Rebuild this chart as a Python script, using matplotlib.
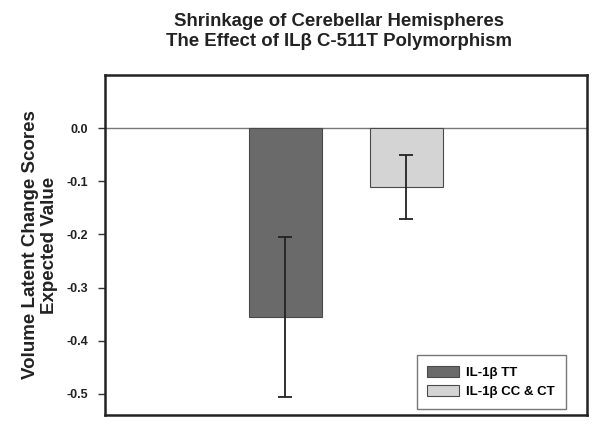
import matplotlib
matplotlib.use('Agg')
import matplotlib.pyplot as plt

plt.rcParams['font.family'] = ['Liberation Sans', 'DejaVu Sans']

# data
groups = ['IL-1\u03b2 TT', 'IL-1\u03b2 CC & CT']
means = [-0.355, -0.111]
errors = [0.150, 0.060]
colors = ['#6a6a6a', '#d4d4d4']
yticks = [0.0, -0.1, -0.2, -0.3, -0.4, -0.5]

fig = plt.figure(figsize=(6, 4.28), dpi=100)
ax = fig.add_axes([0.175, 0.03, 0.803, 0.795])

x = [0, 1]
for xi, m, e, c, g in zip(x, means, errors, colors, groups):
    ax.bar(xi, m, width=0.6, color=c, edgecolor='#4a4a4a', linewidth=0.8, label=g, zorder=2)
    ax.errorbar(xi, m, yerr=e, fmt='none', ecolor='#222222', elinewidth=1.3,
                capsize=5, capthick=1.3, zorder=3)

ax.axhline(0, color='#777777', linewidth=1.0, zorder=1)

ax.set_xlim(-1.49, 2.49)
ax.set_ylim(-0.54, 0.10)
ax.set_xticks([])
ax.set_yticks(yticks)
ax.set_yticklabels(['%.1f' % t for t in yticks], fontsize=9, fontweight='bold', color='#222222')
ax.tick_params(axis='y', direction='out', length=5, width=1, color='#333333', pad=7)
for s in ax.spines.values():
    s.set_linewidth(1.8)
    s.set_color('#222222')

ax.set_ylabel('Volume Latent Change Scores\nExpected Value', fontsize=13.5,
              fontweight='bold', color='#222222', labelpad=6, linespacing=1.2)

fig.text(0.565, 0.97, 'Shrinkage of Cerebellar Hemispheres\nThe Effect of IL\u03b2 C-511T Polymorphism',
         ha='center', va='top', fontsize=13.4, fontweight='bold', color='#222222', linespacing=1.22)

leg = ax.legend(loc='lower right', bbox_to_anchor=(0.956, 0.018), borderaxespad=0,
                prop={'weight': 'bold', 'size': 9.5}, frameon=True, fancybox=False,
                edgecolor='#555555', handlelength=2.35, handleheight=0.9,
                borderpad=0.8, labelspacing=0.5, handletextpad=0.6)
leg.get_frame().set_linewidth(1.0)

fig.savefig('out.png', dpi=100)
